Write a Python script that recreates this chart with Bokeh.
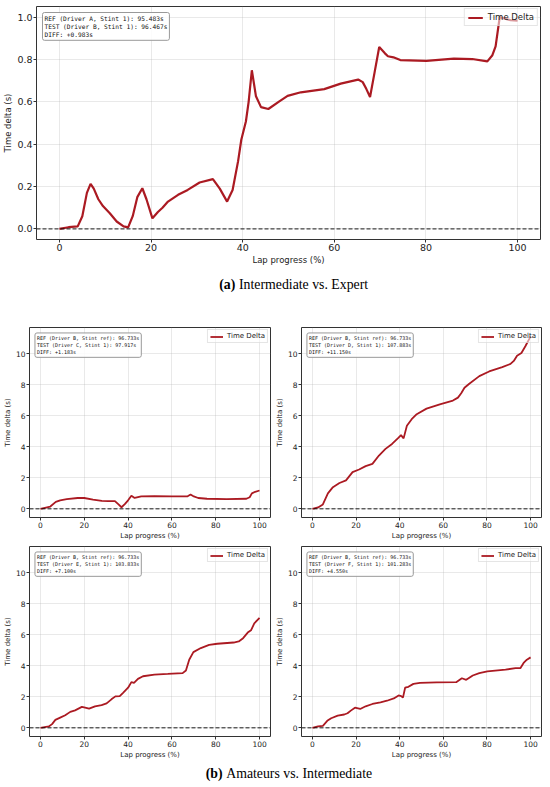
from bokeh.plotting import figure
from bokeh.layouts import column, row
from bokeh.models import Span, Label, FixedTicker, Range1d, PrintfTickFormatter
from bokeh.embed import file_html
from bokeh.resources import INLINE
from bokeh.core.properties import value

# ---------------- data ----------------
# (a) Intermediate vs. Expert
a_progress = [0, 2, 4, 5, 6, 6.8, 7.5, 8.5, 9.5, 11, 12.5, 14, 15, 16, 17, 18.1, 19, 20.3,
              21.5, 22.5, 23.7, 25.9, 28, 30.6, 33.5, 35, 36.6, 37.8, 39, 39.7, 40.7, 41.3,
              42, 42.9, 44, 45.6, 48, 49.8, 52.7, 57.8, 61.4, 65.2, 66.2, 67, 67.8, 68.8,
              69.8, 71, 71.7, 72.9, 74.4, 80.1, 86.1, 90.1, 93.4, 94.5, 95.2, 96.1, 98.5, 100]
a_delta = [0, 0.008, 0.012, 0.06, 0.17, 0.213, 0.19, 0.14, 0.108, 0.074, 0.035, 0.012, 0.007,
           0.06, 0.15, 0.192, 0.14, 0.05, 0.08, 0.1, 0.129, 0.161, 0.184, 0.219, 0.235, 0.19,
           0.129, 0.184, 0.32, 0.421, 0.507, 0.6, 0.749, 0.626, 0.575, 0.566, 0.602, 0.628,
           0.645, 0.66, 0.686, 0.705, 0.693, 0.66, 0.623, 0.74, 0.859, 0.83, 0.815, 0.81,
           0.797, 0.793, 0.804, 0.802, 0.791, 0.82, 0.862, 1.0, 0.985, 0.983]
a_info = ["REF (Driver A, Stint 1): 95.483s",
          "TEST (Driver B, Stint 1): 96.467s",
          "DIFF: +0.983s"]

# (b) Amateurs vs. Intermediate
b1_progress = [0, 3, 4.5, 7, 9, 12, 17, 20, 24, 28, 31, 34, 35.5, 37, 38.5, 40, 41.5, 43, 46,
               52, 60, 67, 68.5, 70, 72, 76, 85, 94, 95.5, 96.5, 98, 100]
b1_delta = [0, 0.1, 0.15, 0.45, 0.55, 0.62, 0.7, 0.7, 0.6, 0.52, 0.5, 0.5, 0.3, 0.1, 0.3,
            0.55, 0.85, 0.7, 0.8, 0.82, 0.8, 0.8, 0.92, 0.8, 0.7, 0.65, 0.63, 0.65, 0.75,
            1.0, 1.1, 1.183]
b1_info = ["REF (Driver B, Stint ref): 96.733s",
           "TEST (Driver C, Stint 1): 97.917s",
           "DIFF: +1.183s"]

b2_progress = [0, 2.6, 4.8, 7.1, 9.4, 12.4, 15.4, 18.4, 21.4, 24.4, 27.5, 30.5, 33.5, 36.5,
               39.5, 40.6, 41.8, 43.3, 45.5, 47.8, 52.3, 58.4, 64.4, 66.7, 68.2, 69.7, 71.9,
               76.5, 81.0, 87.0, 90.8, 92.3, 93.8, 95.8, 97.6, 99.4, 100]
b2_delta = [0, 0.09, 0.28, 1.0, 1.4, 1.67, 1.84, 2.37, 2.54, 2.76, 2.9, 3.44, 3.87, 4.19,
            4.6, 4.76, 4.55, 5.36, 5.79, 6.11, 6.47, 6.75, 6.99, 7.18, 7.46, 7.82, 8.08,
            8.57, 8.87, 9.15, 9.36, 9.55, 9.89, 10.06, 10.5, 10.98, 11.15]
b2_info = ["REF (Driver B, Stint ref): 96.733s",
           "TEST (Driver D, Stint 1): 107.883s",
           "DIFF: +11.150s"]

b3_progress = [0, 3.8, 5.3, 6.8, 9.0, 11.3, 13.6, 15.8, 18.9, 20.4, 22.2, 24.9, 27.9, 30.2,
               32.4, 34.2, 36.2, 37.7, 40.0, 41.5, 42.7, 44.5, 46.8, 52.0, 58.1, 64.9, 66.4,
               67.9, 69.8, 73.2, 77.0, 80.7, 88.2, 90.5, 92.5, 94.6, 96.1, 97.6, 100]
b3_delta = [0, 0.09, 0.24, 0.51, 0.66, 0.81, 1.03, 1.13, 1.35, 1.30, 1.24, 1.39, 1.47, 1.58,
            1.84, 2.03, 2.05, 2.26, 2.59, 2.95, 2.91, 3.16, 3.33, 3.44, 3.48, 3.53, 3.7, 4.4,
            4.89, 5.15, 5.36, 5.43, 5.51, 5.58, 5.79, 6.15, 6.3, 6.75, 7.1]
b3_info = ["REF (Driver B, Stint ref): 96.733s",
           "TEST (Driver E, Stint 1): 103.833s",
           "DIFF: +7.100s"]

b4_progress = [0, 2.6, 4.8, 6.8, 8.6, 11.6, 14.6, 16.1, 17.6, 19.5, 21.9, 24.4, 27.5, 31.2,
               34.2, 37.3, 39.5, 40.7, 41.5, 42.5, 44.0, 46.3, 49.3, 56.9, 65.9, 68.5, 70.5,
               73.5, 76.5, 80.2, 88.5, 93.1, 95.3, 96.8, 98.3, 100]
b4_delta = [0, 0.1, 0.13, 0.45, 0.62, 0.79, 0.86, 0.94, 1.11, 1.3, 1.22, 1.39, 1.54, 1.65,
            1.75, 1.9, 2.09, 2.05, 1.95, 2.59, 2.65, 2.84, 2.9, 2.93, 2.95, 3.2, 3.1, 3.38,
            3.53, 3.65, 3.76, 3.85, 3.85, 4.19, 4.4, 4.55]
b4_info = ["REF (Driver B, Stint ref): 96.733s",
           "TEST (Driver F, Stint 1): 101.283s",
           "DIFF: +4.550s"]

x_ticks = [0, 20, 40, 60, 80, 100]
a_y_ticks = [0, 0.2, 0.4, 0.6, 0.8, 1.0]
b_y_ticks = [0, 2, 4, 6, 8, 10]

LINE_COLOR = "#ab1a22"
SANS = "DejaVu Sans"
MONO = "DejaVu Sans Mono"
SERIF = "Liberation Serif"


def make_panel(progress, delta, info, width, height, borders, y_range, y_ticks, y_fmt,
               tick_fs, label_fs, legend_fs, info_fs, line_w, info_off, legend_cfg):
    left, right, top, bottom = borders
    p = figure(width=width, height=height, output_backend="svg", toolbar_location=None,
               x_range=Range1d(-5, 105), y_range=Range1d(*y_range),
               min_border_left=left, min_border_right=right,
               min_border_top=top, min_border_bottom=bottom,
               background_fill_color="white", border_fill_color="white")
    p.outline_line_color = "#333333"
    p.outline_line_width = 1
    p.xaxis.ticker = FixedTicker(ticks=x_ticks)
    p.yaxis.ticker = FixedTicker(ticks=y_ticks)
    p.yaxis.formatter = PrintfTickFormatter(format=y_fmt)
    for ax in (p.xaxis, p.yaxis):
        ax.axis_line_color = None
        ax.major_tick_in = 0
        ax.major_tick_out = 3
        ax.minor_tick_line_color = None
        ax.major_tick_line_color = "#333333"
        ax.major_label_text_font = SANS
        ax.major_label_text_font_size = tick_fs
        ax.major_label_text_color = "#222222"
        ax.major_label_standoff = 1
        ax.axis_label_text_font = SANS
        ax.axis_label_text_font_size = label_fs
        ax.axis_label_text_font_style = "normal"
        ax.axis_label_text_color = "#222222"
        ax.axis_label_standoff = 1
    p.xaxis.axis_label = "Lap progress (%)"
    p.yaxis.axis_label = "Time delta (s)"
    p.grid.grid_line_color = "#b0b0b0"
    p.grid.grid_line_alpha = 0.35
    p.grid.grid_line_width = 0.8

    p.add_layout(Span(location=0, dimension="width", line_color="black",
                      line_dash="4 2", line_width=0.9))
    p.line(progress, delta, line_color=LINE_COLOR, line_width=line_w,
           legend_label="Time Delta")

    # annotation box
    xr0 = -5.0
    yr1 = y_range[1]
    fw = width - left - right
    fh = height - top - bottom
    ox, oy = info_off
    lab = Label(x=xr0 + ox * 110.0 / fw, y=yr1 - oy * (yr1 - y_range[0]) / fh,
                text="\n".join(info), text_font=MONO, text_font_size=info_fs,
                text_align="left", text_baseline="top", text_color="#111111",
                background_fill_color="white", background_fill_alpha=0.85,
                border_line_color="#999999", border_line_width=1,
                padding=2, border_radius=2)
    p.add_layout(lab)

    lg = p.legend[0]
    lg.location = "top_right"
    lg.label_text_font = SANS
    lg.label_text_font_size = legend_fs
    lg.label_text_color = "#222222"
    lg.border_line_color = "#cccccc"
    lg.background_fill_alpha = 0.55
    lg.glyph_width = legend_cfg["gw"]
    lg.glyph_height = legend_cfg["gh"]
    lg.label_height = legend_cfg["gh"]
    lg.padding = legend_cfg["pad"]
    lg.margin = legend_cfg["margin"]
    lg.label_standoff = legend_cfg["standoff"]
    lg.spacing = 0
    return p


def make_caption(width, height, bold, rest, xsplit, font_size):
    c = figure(width=width, height=height, output_backend="svg", toolbar_location=None,
               x_range=Range1d(0, width), y_range=Range1d(0, height),
               x_axis_type=None, y_axis_type=None, min_border=0,
               outline_line_color=None, background_fill_color="white",
               border_fill_color="white")
    c.grid.visible = False
    c.text(x=[xsplit], y=[height / 2.0], text=[bold], text_align="right",
           text_baseline="middle", text_font=value(SERIF), text_font_style="bold",
           text_font_size=font_size, text_color="black")
    c.text(x=[xsplit + 4], y=[height / 2.0], text=[rest], text_align="left",
           text_baseline="middle", text_font=value(SERIF), text_font_style="normal",
           text_font_size=font_size, text_color="black")
    return c


top_legend = dict(gw=15, gh=9, pad=3, margin=2, standoff=5)
small_legend = dict(gw=13, gh=7, pad=2, margin=2, standoff=4)

pa = make_panel(a_progress, a_delta, a_info, 550, 272, (35, 10, 6, 33), (-0.05, 1.05),
                a_y_ticks, "%.1f", "9.5px", "8.5px", "8.5px", "6.2px", 2.2, (6, 6),
                top_legend)
cap_a = make_caption(550, 24, "(a)", "Intermediate vs. Expert", 217, "13.8px")

b_range = (-0.56, 11.71)
p1 = make_panel(b1_progress, b1_delta, b1_info, 272, 246, (27, 2, 31, 23), b_range,
                b_y_ticks, "%d", "7.5px", "7px", "7px", "5px", 1.8, (5.5, 5.5), small_legend)
p2 = make_panel(b2_progress, b2_delta, b2_info, 278, 246, (26, 9, 31, 23), b_range,
                b_y_ticks, "%d", "7.5px", "7px", "7px", "5px", 1.8, (5.5, 5.5), small_legend)
p3 = make_panel(b3_progress, b3_delta, b3_info, 272, 219, (27, 2, 4, 23), b_range,
                b_y_ticks, "%d", "7.5px", "7px", "7px", "5px", 1.8, (5.5, 5.5), small_legend)
p4 = make_panel(b4_progress, b4_delta, b4_info, 278, 219, (26, 9, 4, 23), b_range,
                b_y_ticks, "%d", "7.5px", "7px", "7px", "5px", 1.8, (5.5, 5.5), small_legend)
cap_b = make_caption(550, 24, "(b)", "Amateurs vs. Intermediate", 203, "13.8px")

layout = column(pa, cap_a, row(p1, p2), row(p3, p4), cap_b)

open("out.html", "w").write(file_html(layout, INLINE))
